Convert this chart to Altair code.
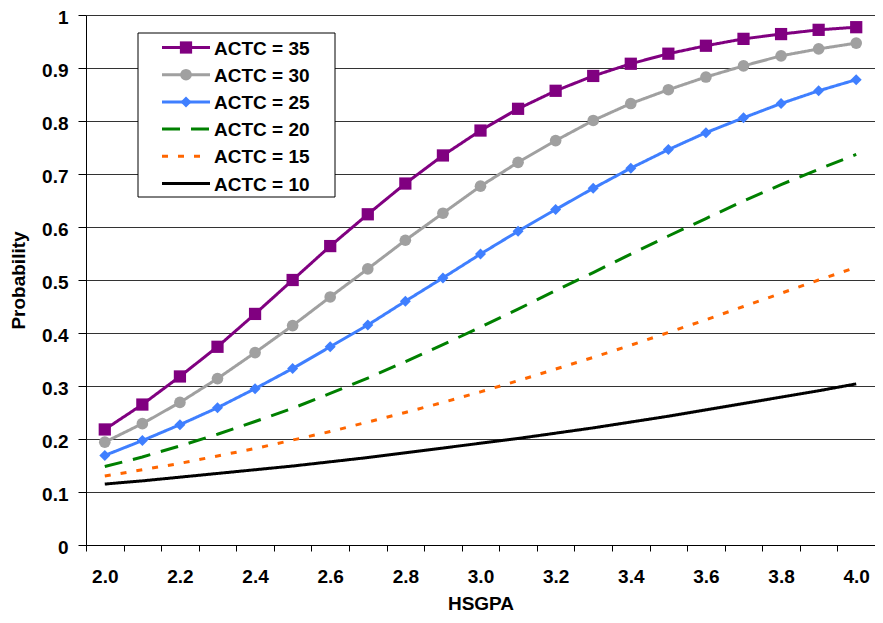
import altair as alt
import pandas as pd

hsgpa = ["2.0", "2.1", "2.2", "2.3", "2.4", "2.5", "2.6", "2.7", "2.8", "2.9", "3.0",
         "3.1", "3.2", "3.3", "3.4", "3.5", "3.6", "3.7", "3.8", "3.9", "4.0"]

series_names = ["ACTC = 35", "ACTC = 30", "ACTC = 25", "ACTC = 20", "ACTC = 15", "ACTC = 10"]

actc35 = [0.218, 0.265, 0.318, 0.374, 0.436, 0.500, 0.564, 0.624, 0.682, 0.735, 0.782,
          0.823, 0.857, 0.885, 0.908, 0.927, 0.942, 0.955, 0.964, 0.972, 0.977]
actc30 = [0.194, 0.229, 0.269, 0.314, 0.363, 0.414, 0.468, 0.521, 0.575, 0.626, 0.677,
          0.722, 0.763, 0.801, 0.833, 0.859, 0.883, 0.904, 0.923, 0.936, 0.947]
actc25 = [0.169, 0.197, 0.227, 0.259, 0.295, 0.333, 0.374, 0.415, 0.460, 0.504, 0.549,
          0.592, 0.633, 0.673, 0.711, 0.746, 0.778, 0.806, 0.833, 0.857, 0.878]
actc20 = [0.148, 0.166, 0.187, 0.209, 0.233, 0.258, 0.286, 0.315, 0.346, 0.378, 0.411,
          0.445, 0.480, 0.514, 0.549, 0.583, 0.616, 0.649, 0.680, 0.709, 0.737]
actc15 = [0.130, 0.142, 0.154, 0.168, 0.182, 0.198, 0.214, 0.232, 0.250, 0.269, 0.289,
          0.310, 0.332, 0.354, 0.377, 0.401, 0.425, 0.450, 0.475, 0.500, 0.524]
actc10 = [0.115, 0.121, 0.128, 0.135, 0.142, 0.149, 0.157, 0.165, 0.174, 0.183, 0.192,
          0.201, 0.211, 0.221, 0.232, 0.243, 0.255, 0.267, 0.279, 0.291, 0.304]

y_ticks = [0, 0.1, 0.2, 0.3, 0.4, 0.5, 0.6, 0.7, 0.8, 0.9, 1]

colors = ["#800080", "#a0a0a0", "#3f7fff", "#008000", "#ff6600", "#000000"]
dashes = [[1, 0], [1, 0], [1, 0], [18, 11], [6, 10], [1, 0]]
marked = ["ACTC = 35", "ACTC = 30", "ACTC = 25"]
shapes = ["square", "circle", "diamond"]
sizes = [150, 121, 160]

all_series = [actc35, actc30, actc25, actc20, actc15, actc10]
rows = []
for name, vals in zip(series_names, all_series):
    for g, v in zip(hsgpa, vals):
        rows.append({"HSGPA": g, "Probability": v, "series": name})
df = pd.DataFrame(rows)
leg_df = pd.DataFrame({"series": series_names})

FONT = "Liberation Sans"

color_scale = alt.Scale(domain=series_names, range=colors)
dash_scale = alt.Scale(domain=series_names, range=dashes)
shape_scale = alt.Scale(domain=marked, range=shapes)
size_scale = alt.Scale(domain=marked, range=sizes)

x_enc = alt.X(
    "HSGPA:O", sort=hsgpa, bandPosition=0.5,
    scale=alt.Scale(type="band", domain=hsgpa, paddingInner=0, paddingOuter=0),
    axis=alt.Axis(
        title="HSGPA", tickBand="extent", labelAngle=0, labelOverlap=False,
        labelExpr="round(toNumber(datum.value) * 10) % 2 == 0 ? datum.value : ''",
        tickSize=6, tickColor="black", domainColor="black", labelPadding=16,
        labelFont=FONT, labelFontSize=19, labelFontWeight="bold", labelColor="black",
        titleFont=FONT, titleFontSize=19, titleFontWeight="bold", titleColor="black",
        titleBaseline="bottom", titlePadding=27, grid=False,
    ),
)

y_scale = alt.Scale(domain=[0, 1], nice=False, zero=True)

lines = alt.Chart(df).mark_line(strokeWidth=3).encode(
    x=x_enc,
    y=alt.Y(
        "Probability:Q", scale=y_scale,
        axis=alt.Axis(
            title="Probability", values=y_ticks, format="~g",
            tickSize=8, tickColor="black", domainColor="black", labelPadding=10,
            labelOffset=2,
            gridColor="#333333", gridWidth=1,
            labelFont=FONT, labelFontSize=19, labelFontWeight="bold", labelColor="black",
            titleFont=FONT, titleFontSize=19, titleFontWeight="bold", titleColor="black",
            titlePadding=13,
        ),
    ),
    color=alt.Color("series:N", scale=color_scale, legend=None),
    strokeDash=alt.StrokeDash("series:N", scale=dash_scale, legend=None),
    detail="series:N",
)

points = alt.Chart(df).transform_filter(
    alt.FieldOneOfPredicate(field="series", oneOf=marked)
).mark_point(filled=True, opacity=1).encode(
    x=alt.X("HSGPA:O", sort=hsgpa, bandPosition=0.5),
    y=alt.Y("Probability:Q", scale=y_scale, axis=None),
    color=alt.Color("series:N", scale=color_scale, legend=None),
    shape=alt.Shape("series:N", scale=shape_scale, legend=None),
    size=alt.Size("series:N", scale=size_scale, legend=None),
)

leg_y = alt.Y("series:N", sort=series_names,
              scale=alt.Scale(type="point", domain=series_names, range=[32.5, 168.5], padding=0),
              axis=None)

leg_box = alt.Chart(alt.Data(values=[{}])).mark_rect(
    fill="white", stroke="black", strokeWidth=1
).encode(
    x=alt.value(52), x2=alt.value(249), y=alt.value(18), y2=alt.value(182)
)

leg_lines = alt.Chart(leg_df).mark_rule(strokeWidth=3).encode(
    x=alt.value(76), x2=alt.value(124), y=leg_y,
    color=alt.Color("series:N", scale=color_scale, legend=None),
    strokeDash=alt.StrokeDash("series:N", scale=dash_scale, legend=None),
)

leg_points = alt.Chart(leg_df).transform_filter(
    alt.FieldOneOfPredicate(field="series", oneOf=marked)
).mark_point(filled=True, opacity=1).encode(
    x=alt.value(100), y=leg_y,
    color=alt.Color("series:N", scale=color_scale, legend=None),
    shape=alt.Shape("series:N", scale=shape_scale, legend=None),
    size=alt.Size("series:N", scale=size_scale, legend=None),
)

leg_text = alt.Chart(leg_df).mark_text(
    align="left", baseline="middle", dy=1, font=FONT, fontSize=19, fontWeight="bold", color="black"
).encode(
    x=alt.value(128), y=leg_y, text="series:N"
)

chart = alt.layer(
    lines, points, leg_box, leg_lines, leg_points, leg_text
).resolve_scale(
    y="independent"
).properties(
    width=789, height=530,
    padding={"left": 78, "top": 7, "right": 0, "bottom": 70},
    autosize="none", background="white",
).configure_view(strokeWidth=0)

chart.save("out.html", embed_options={"renderer": "svg", "actions": False})
